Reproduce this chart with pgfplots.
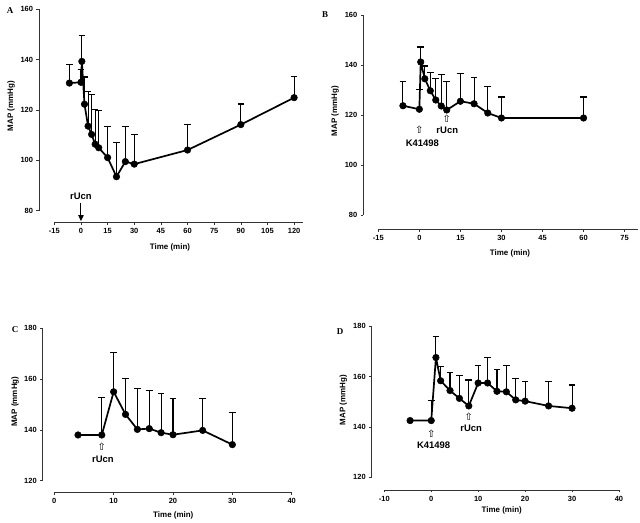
\documentclass[border=0pt]{standalone}
\usepackage{fontspec}
\setmainfont{Liberation Sans}
\newfontfamily\serifb{Liberation Serif}
\newfontfamily\arrowfont{DejaVu Sans}
\usepackage{pgfplots}
\usepackage{pgfplotstable}
\pgfplotsset{compat=1.18}
\usetikzlibrary{arrows.meta}

\pgfplotstableread{
t v top
-6.5 130.7 137.9
0 131.0 136.0
0.5 139.3 149.7
2 122.3 133.1
4 113.6 127.2
6 110.3 126.1
8 106.4 120.3
10 105.0 119.7
15 101.1 113.6
20 93.5 107.2
25 99.5 113.6
30 98.5 110.3
60 104.1 114.4
90 114.2 122.4
120 124.9 133.4
}\dataA
\pgfplotstableread{
t v top
-6 123.7 133.3
0 122.3 130.3
0.5 141.2 147.2
2 134.5 139.6
4 129.7 137.1
6 126.0 134.7
8 123.6 136.3
10 122.0 133.3
15 125.5 136.5
20 124.5 135.1
25 120.8 131.5
30 118.8 127.2
60 118.8 127.2
}\dataB
\pgfplotstableread{
t v top
4 138.0 138.0
8 138.0 152.7
10 155.0 170.6
12 146.1 160.2
14 140.2 156.2
16 140.5 155.4
18 138.9 154.4
20 138.1 152.4
25 139.8 152.5
30 134.2 147.0
}\dataC
\pgfplotstableread{
t v top
-4.5 142.5 142.5
0 142.5 150.4
1 167.5 175.8
2 158.3 163.9
4 154.4 161.5
6 151.3 160.3
8 148.3 158.6
10 157.4 164.4
12 157.4 167.6
14 154.1 162.9
16 153.9 164.3
18 150.7 159.3
20 150.2 158.1
25 148.3 157.9
30 147.4 156.6
}\dataD

\pgfplotsset{
 prism/.style={
  scale only axis,
  axis x line*=bottom, axis y line*=left,
  separate axis lines,
  tick align=outside,
  major tick length=2.5bp,
  axis line style={black!80, line width=0.6bp, -},
  every tick/.style={black!80, line width=0.6bp},
  tick label style={font=\fontsize{7.5}{8}\selectfont\bfseries},
  /pgf/number format/assume math mode=true,
  clip=false,
  enlargelimits=false,
 },
 data/.style={black, line width=1.7bp, mark=*, mark size=3.3bp,
   mark options={solid, fill=black, line width=0.5bp},
   error bars/.cd, y dir=plus, y explicit,
   error bar style={line width=1.1bp, black},
   error mark options={rotate=90, mark size=3.3bp, line width=1.1bp, black}},
}
\newcommand{\ann}{\fontsize{9.5}{10}\selectfont\bfseries}
\newcommand{\harrow}{{\arrowfont\fontsize{10}{10}\selectfont ⇧}}
\newcommand{\lab}{\fontsize{8}{9}\selectfont\bfseries}

\begin{document}
\begin{tikzpicture}
\useasboundingbox (0,0) rectangle (640bp,523bp);
% Panel A
\begin{axis}[prism, at={(54.3bp,312.3bp)}, anchor=south west,
  width=248.7bp, height=201.4bp,
  xmin=-15, xmax=125, ymin=80, ymax=160,
  xtick={-15,0,15,30,45,60,75,90,105,120},
  ytick={80,100,120,140,160},
  axis x line shift=12bp, axis y line shift=15.3bp]
\addplot+[data] table[x=t, y=v, y error expr=\thisrow{top}-\thisrow{v}] {\dataA};
\node[font=\ann] at (axis cs:0,85.8) {rUcn};
\draw[-{Triangle[width=5.5bp,length=6bp]}, line width=1.1bp] (axis cs:0,83.1) -- (axis cs:0,75.9);
\end{axis}
% Panel B
\begin{axis}[prism, at={(378.3bp,308bp)}, anchor=south west,
  width=260bp, height=200bp,
  xmin=-15, xmax=80, ymin=80, ymax=160,
  xtick={-15,0,15,30,45,60,75},
  ytick={80,100,120,140,160},
  axis x line shift=14.3bp, axis y line shift=15bp]
\addplot+[data] table[x=t, y=v, y error expr=\thisrow{top}-\thisrow{v}] {\dataB};
\node at (axis cs:0,114) {\harrow};
\node[font=\ann] at (axis cs:1.1,108.7) {K41498};
\node at (axis cs:10,118.7) {\harrow};
\node[font=\ann] at (axis cs:10.2,114) {rUcn};
\end{axis}
% Panel C
\begin{axis}[prism, at={(54.3bp,42.3bp)}, anchor=south west,
  width=237.4bp, height=152.4bp,
  xmin=0, xmax=40, ymin=120, ymax=180,
  xtick={0,10,20,30,40},
  ytick={120,140,160,180},
  axis x line shift=12bp, axis y line shift=11.6bp]
\addplot+[data] table[x=t, y=v, y error expr=\thisrow{top}-\thisrow{v}] {\dataC};
\node at (axis cs:8,133.4) {\harrow};
\node[font=\ann] at (axis cs:8.2,128.5) {rUcn};
\end{axis}
% Panel D
\begin{axis}[prism, at={(384.3bp,45.7bp)}, anchor=south west,
  width=234.7bp, height=151.3bp,
  xmin=-10, xmax=40, ymin=120, ymax=180,
  xtick={-10,0,10,20,30,40},
  ytick={120,140,160,180},
  axis x line shift=12.7bp, axis y line shift=12.6bp]
\addplot+[data] table[x=t, y=v, y error expr=\thisrow{top}-\thisrow{v}] {\dataD};
\node at (axis cs:0,137.1) {\harrow};
\node[font=\ann] at (axis cs:0.5,132.8) {K41498};
\node at (axis cs:8,144.0) {\harrow};
\node[font=\ann] at (axis cs:8.5,139.4) {rUcn};
\end{axis}
% labels
\node[font=\serifb\fontsize{9}{10}\selectfont\bfseries] at (10bp,{523bp-11bp}) {A};
\node[font=\serifb\fontsize{9}{10}\selectfont\bfseries] at (325bp,{523bp-15bp}) {B};
\node[font=\serifb\fontsize{9}{10}\selectfont\bfseries] at (15bp,{523bp-329.3bp}) {C};
\node[font=\serifb\fontsize{9}{10}\selectfont\bfseries] at (340bp,{523bp-332bp}) {D};
\node[font=\lab, rotate=90] at (11bp,{523bp-106bp}) {MAP (mmHg)};
\node[font=\lab, rotate=90] at (335bp,{523bp-111bp}) {MAP (mmHg)};
\node[font=\lab, rotate=90] at (15bp,{523bp-401.7bp}) {MAP (mmHg)};
\node[font=\lab, rotate=90] at (343.3bp,{523bp-400bp}) {MAP (mmHg)};
\node[font=\lab] at (170bp,{523bp-247.7bp}) {Time (min)};
\node[font=\lab] at (510bp,{523bp-253.3bp}) {Time (min)};
\node[font=\lab] at (173.3bp,{523bp-515.7bp}) {Time (min)};
\node[font=\lab] at (501.7bp,{523bp-510.7bp}) {Time (min)};
\end{tikzpicture}
\end{document}
